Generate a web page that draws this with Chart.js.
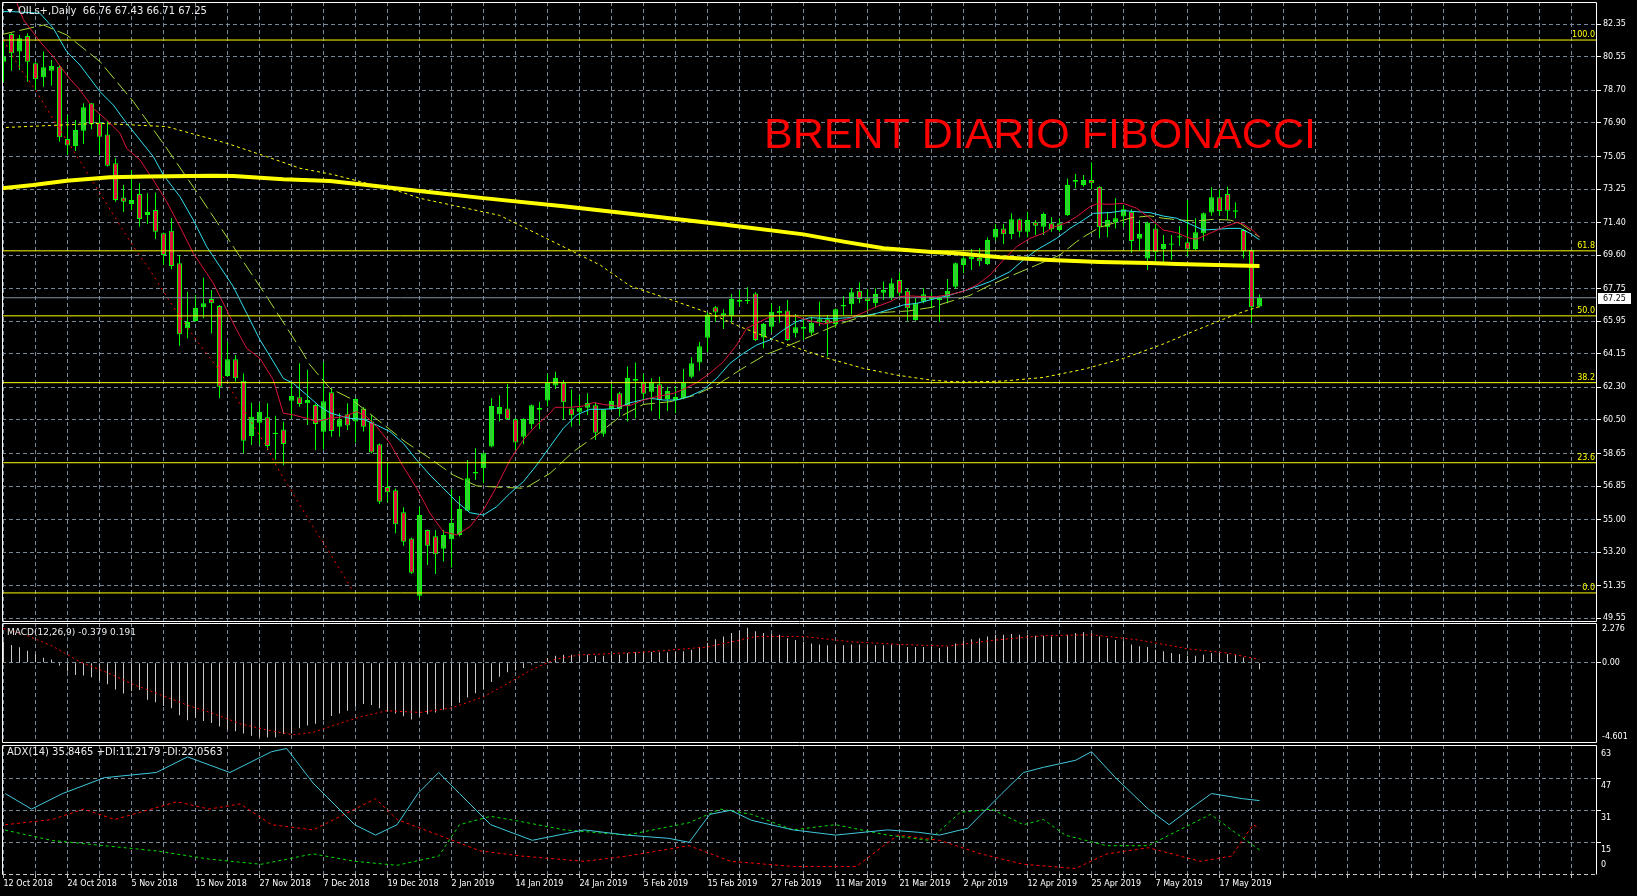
<!DOCTYPE html>
<html><head><meta charset="utf-8">
<script src="https://cdn.jsdelivr.net/npm/chart.js@4/dist/chart.umd.min.js"></script>
<style>
html,body{margin:0;padding:0;background:#000;overflow:hidden}
#wrap{position:relative;width:1637px;height:896px;background:#000}
canvas{position:absolute;left:0}
</style></head><body>
<div id="wrap">
<canvas id="main" width="1637" height="624" style="top:0px"></canvas>
<canvas id="macd" width="1637" height="126" style="top:620px"></canvas>
<canvas id="adx" width="1637" height="152" style="top:744px"></canvas>
</div>
<script>
// ---------------- DATA ----------------
const dateLabels = ['12 Oct 2018','24 Oct 2018','5 Nov 2018','15 Nov 2018','27 Nov 2018','7 Dec 2018','19 Dec 2018','2 Jan 2019','14 Jan 2019','24 Jan 2019','5 Feb 2019','15 Feb 2019','27 Feb 2019','11 Mar 2019','21 Mar 2019','2 Apr 2019','12 Apr 2019','25 Apr 2019','7 May 2019','17 May 2019'];
const barsPerDateLabel = 8;
const priceTickLabels = ['82.35','80.55','78.70','76.90','75.05','73.25','71.40','69.60','67.75','65.95','64.15','62.30','60.50','58.65','56.85','55.00','53.20','51.35','49.55'];
const macdTickValues = [2.276, 0, -4.601];
const adxTickValues = [63, 47, 31, 15, 0];

const open = [80.28,81.81,80.84,81.70,80.20,79.42,79.79,80.01,76.02,75.63,76.47,77.99,76.92,76.27,74.67,72.78,72.43,72.98,71.82,72.10,70.81,70.95,69.15,65.56,65.96,66.72,67.18,66.79,62.93,63.85,62.67,59.61,60.35,60.65,59.72,59.98,61.56,61.75,61.42,61.33,59.85,62.03,60.13,60.81,60.41,61.14,60.41,59.16,56.80,56.62,55.40,53.96,50.80,54.43,54.08,53.39,53.91,54.15,55.49,57.55,57.83,59.03,60.81,61.14,60.54,59.58,60.26,61.07,61.57,62.40,62.56,61.14,60.96,61.18,61.31,59.74,61.09,61.97,61.27,62.67,62.56,62.06,62.47,61.66,61.60,61.70,62.89,63.67,65.04,66.72,66.26,66.26,67.03,67.07,67.49,65.05,65.65,66.52,66.55,65.29,65.54,65.32,65.93,66.06,65.80,66.76,66.89,67.64,67.22,66.94,67.53,67.22,68.23,67.64,66.02,67.03,67.16,67.13,67.31,67.86,69.06,69.39,69.45,69.11,70.57,71.08,70.77,71.58,70.90,71.42,71.17,71.36,70.99,71.82,73.66,73.48,73.75,73.38,71.14,71.42,71.73,72.00,70.51,69.41,71.08,69.94,70.18,70.57,70.31,69.94,70.81,71.95,72.80,72.98,72.00,70.99,69.89,66.76];
const high = [81.48,81.85,81.76,81.85,80.25,80.84,80.38,80.10,77.34,77.07,77.99,78.00,77.34,76.99,74.95,73.48,74.30,73.57,73.02,73.05,70.85,71.64,69.61,67.58,67.40,68.36,67.68,66.85,64.82,64.09,63.07,61.45,61.42,61.42,60.73,60.40,62.61,63.63,63.27,61.40,63.72,62.25,60.87,61.42,61.70,61.20,60.78,59.20,58.14,56.71,55.68,54.00,55.71,54.45,54.43,54.43,56.67,56.30,58.29,58.94,58.70,61.70,61.86,62.49,60.60,60.60,61.35,61.51,63.04,63.17,62.71,62.19,61.88,61.97,61.46,61.10,62.49,62.06,63.45,63.67,63.04,62.80,62.89,62.34,62.38,63.32,63.96,64.81,66.43,66.80,66.61,67.46,67.68,67.83,67.55,65.85,66.94,66.80,67.13,66.35,66.11,66.20,67.03,66.30,66.65,67.35,67.77,68.10,67.72,67.77,68.14,68.32,68.64,67.77,67.22,67.77,67.53,67.31,68.29,69.20,69.52,69.94,69.98,70.57,71.32,71.32,71.91,71.64,72.00,71.54,71.95,71.69,71.64,73.84,74.08,74.03,74.73,73.42,72.00,72.74,72.37,72.13,71.54,71.45,71.32,70.72,70.72,71.21,72.65,71.64,71.95,73.35,73.24,73.38,72.52,71.06,69.90,67.43];
const low = [79.18,79.79,79.83,79.18,78.72,78.90,78.96,75.87,75.13,75.35,75.74,76.55,75.13,74.50,72.55,71.98,72.10,71.17,71.32,70.49,69.06,68.82,64.60,65.01,65.93,66.12,65.28,61.70,62.89,62.62,58.66,59.12,59.12,58.84,58.30,58.00,60.59,61.23,60.22,58.84,58.87,59.58,59.58,59.95,59.25,59.86,58.66,55.86,55.95,54.24,53.56,51.99,50.56,52.49,51.99,52.68,52.35,54.06,55.49,57.19,57.00,59.00,60.41,60.50,58.84,59.16,60.00,60.00,61.24,62.21,60.50,60.13,60.22,60.78,59.39,59.58,61.05,60.68,60.41,60.59,61.60,61.00,60.55,61.00,60.87,61.65,62.80,63.22,64.24,65.93,65.52,65.89,66.76,66.90,64.86,64.46,65.32,65.87,64.86,65.05,64.92,65.19,65.69,64.00,65.60,66.30,66.33,66.94,66.48,66.70,67.13,67.13,67.22,65.98,65.98,66.94,66.67,65.93,66.94,67.73,68.60,68.78,69.00,69.06,70.40,70.22,70.48,70.59,70.59,70.71,70.71,70.90,70.90,71.77,73.29,73.38,73.24,70.53,70.59,71.08,71.17,69.74,69.89,68.78,69.28,69.24,69.33,70.11,69.52,69.89,70.40,71.78,71.78,71.58,71.64,69.43,65.87,66.71];
const close = [80.56,80.75,81.58,80.28,79.31,79.98,80.05,76.11,75.65,76.51,77.77,76.84,76.14,74.54,72.65,72.55,72.65,71.60,71.99,70.90,69.61,69.00,65.23,65.91,66.68,66.94,66.94,62.34,63.85,62.80,59.36,60.68,60.96,59.07,59.80,59.17,61.82,61.38,61.60,60.28,61.54,59.89,60.54,60.19,61.66,60.13,58.70,55.99,56.51,54.74,53.78,52.07,55.25,53.56,53.08,54.15,54.81,55.59,57.28,57.63,58.66,61.27,61.22,60.54,59.25,60.56,61.31,61.18,62.54,62.82,61.48,60.76,61.18,61.44,59.80,61.09,61.55,61.11,62.82,62.76,61.95,62.58,61.60,62.10,61.77,62.56,63.63,64.57,66.33,66.44,66.39,67.18,67.13,67.13,64.92,65.80,66.48,66.39,64.92,65.62,65.64,65.87,66.06,65.84,66.61,66.85,67.55,67.18,67.07,67.46,67.68,68.05,67.49,66.67,66.94,67.44,67.31,67.27,67.64,69.15,69.43,69.52,69.26,70.44,71.05,70.75,71.58,70.90,71.54,71.23,71.88,71.05,71.36,73.48,73.75,73.75,73.57,71.14,71.54,71.64,72.13,70.38,70.77,71.40,69.76,70.22,70.25,70.64,69.92,70.86,71.91,72.80,72.04,72.06,72.08,69.80,66.72,67.25];

// moving averages: [bar index, price]
const maSlow = [[-0.44,73.29],[3.73,73.47],[7.9,73.71],[13.31,73.9],[17.9,73.94],[26.23,73.99],[28.73,73.97],[32.06,73.88],[34.98,73.79],[40.81,73.7],[46,73.45],[52,73.15],[60,72.75],[70,72.3],[80,71.8],[90,71.3],[100,70.75],[105,70.35],[110,69.98],[116,69.78],[119.1,69.7],[124.56,69.48],[130.8,69.33],[137.06,69.22],[143.3,69.17],[146.65,69.11],[151.65,69.06],[157,69.0]];
const maRed = [[1.5,83.7],[2.5,82.6],[4.56,81.39],[6.23,80.56],[7.9,79.55],[9.56,78.72],[11.23,77.71],[12.9,77.06],[14.56,76.33],[15.4,75.5],[17.06,74.86],[18.73,73.75],[20.4,72.55],[22.06,71.17],[23.73,69.7],[25.4,68.6],[26.23,68.05],[27.9,66.57],[29.15,65.47],[30.4,64.46],[32.06,63.9],[33.73,62.71],[34.98,60.87],[36.23,60.78],[37.9,60.59],[39.15,60.41],[40.8,60.59],[42.48,60.68],[44.15,60.96],[45.4,60.68],[46.65,60.13],[48.31,59.21],[49.98,57.92],[51.65,56.73],[53.31,55.35],[54.98,54.33],[56.65,54.15],[58.31,54.61],[59.98,55.53],[61.65,56.82],[63.31,58.29],[64.98,59.4],[66.65,60.22],[68.31,60.87],[68.94,61.2],[70.81,61.2],[72.48,61.27],[73.73,61.46],[74.98,61.36],[76.65,61.27],[78.31,61.3],[79.98,61.6],[81.65,61.79],[83.73,61.97],[84.98,62.19],[86.65,62.56],[88.31,63.08],[89.98,63.72],[91.65,64.64],[92.9,65.56],[94.15,65.84],[95.81,66.2],[97.48,66.3],[99.15,66.2],[100.81,65.98],[102.48,65.8],[104.15,65.93],[105.81,66.11],[107.48,66.43],[109.15,66.76],[110.81,67.03],[112.06,67.31],[113.31,67.35],[114.98,67.31],[116.65,67.31],[118.31,67.43],[119.98,67.6],[121.65,67.95],[123.31,68.5],[124.98,69.33],[126.65,70.07],[128.31,70.53],[129.98,70.81],[131.23,71.14],[132.9,71.4],[134.15,71.73],[135.81,72.28],[136.65,72.43],[138.31,72.41],[139.98,72.46],[141.65,72.19],[143.31,71.64],[144.98,70.99],[146.65,70.84],[148.31,70.53],[149.15,70.49],[150.81,70.81],[152.48,71.14],[154.15,71.4],[154.98,71.32],[156.23,70.95],[157,70.6]];
const maCyan = [[-0.44,83.05],[1.02,83.05],[4.56,82.96],[6.23,82.13],[7.9,80.84],[9.56,80.1],[12.06,78.63],[13.73,77.89],[15.4,76.88],[17.06,75.96],[18.73,75.04],[19.98,74.03],[22.06,72.83],[23.73,71.54],[25.4,70.07],[27.06,68.97],[28.73,67.86],[30.4,66.39],[32.06,64.92],[33.73,63.72],[34.98,62.8],[36.23,62.52],[37.9,61.88],[39.56,61.24],[40.81,60.9],[41.65,60.78],[43.31,60.59],[44.98,60.54],[46.65,60.22],[48.31,59.86],[49.98,59.21],[51.65,58.29],[53.31,57.46],[54.98,56.73],[56.65,55.99],[58.31,55.38],[59.98,55.25],[61.65,55.71],[63.31,56.45],[64.98,57.09],[66.65,58.01],[68.31,59.03],[69.98,60.04],[71.65,60.78],[73.31,61.09],[74.98,61.09],[76.65,61.14],[78.31,61.45],[80.81,61.7],[82.48,61.6],[84.15,61.6],[85.81,61.82],[87.48,62.16],[89.15,62.8],[90.81,63.63],[92.48,64.18],[94.15,64.64],[95.81,64.92],[97.48,65.47],[99.15,65.93],[100.81,66.15],[102.48,66.11],[104.15,66.11],[105.81,66.15],[107.48,66.24],[109.15,66.39],[110.81,66.61],[112.48,66.85],[114.15,66.94],[115.81,67.13],[117.48,67.31],[118.31,67.4],[120.81,67.73],[123.31,68.14],[125.81,68.69],[127.48,69.33],[129.15,69.89],[131.65,70.53],[133.31,71.08],[134.98,71.54],[136.23,71.91],[138.31,71.95],[139.98,72.06],[141.65,72.0],[143.31,71.95],[144.98,71.76],[146.65,71.64],[148.31,71.32],[149.98,70.99],[151.65,71.03],[153.31,71.08],[154.56,71.08],[155.81,70.81],[157,70.45]];
const maGreen = [[-0.44,81.76],[4.98,82.31],[7.9,81.76],[12.06,80.29],[16.23,78.08],[20.4,75.5],[24.56,72.83],[28.73,70.07],[32.9,67.31],[37.06,64.46],[38.31,63.54],[40.81,62.25],[43.31,61.7],[47.06,60.41],[50.19,59.3],[53.31,58.38],[56.23,57.46],[59.15,56.86],[62.27,56.78],[65.19,56.73],[68.31,57.55],[71.23,58.75],[74.15,59.67],[77.06,60.68],[79.98,61.36],[83.31,61.51],[86.23,61.84],[89.15,62.43],[92.27,63.32],[95.19,64.09],[98.1,64.6],[101.23,65.19],[104.15,65.75],[107.06,66.17],[109.98,66.44],[113.1,66.52],[116.02,66.72],[118.94,67.13],[120.81,67.38],[123.1,67.9],[126.23,68.51],[129.15,69.06],[132.06,69.61],[134.15,70.35],[135.19,70.66],[137.06,71.14],[139.98,71.54],[141.02,71.67],[143.31,71.77],[144.98,71.64],[147.06,71.54],[149.15,71.49],[151.23,71.58],[153.31,71.54],[154.56,71.36],[157,70.6]];
const maDotYellow = [[-0.44,76.64],[12.06,76.88],[20.4,76.7],[27.9,75.78],[32.9,75.04],[37.06,74.4],[41.2,74.05],[45.4,73.57],[49.56,73.11],[52.06,72.74],[62,71.8],[69.6,70.15],[74.6,69.05],[78.31,67.9],[83.31,67.16],[88.31,66.39],[92.06,65.65],[95.81,65.01],[99.98,64.36],[103.31,63.87],[107.48,63.35],[111.65,62.98],[115.81,62.71],[118.31,62.62],[121,62.6],[125,62.65],[130,62.85],[135,63.3],[140,63.9],[145,64.7],[149.15,65.47],[152.48,66.06],[154.98,66.48],[157,66.76]];
const maDotRed = [[-0.02,81.48],[2.06,79.92],[4.15,78.63],[6.23,77.07],[8.31,75.68],[10.4,74.21],[12.06,73.02],[14.15,71.54],[16.23,70.07],[18.31,68.78],[20.4,67.31],[22.48,65.93],[24.56,64.64],[26.65,63.44],[28.73,61.97],[30.81,60.5],[32.9,59.03],[34.15,57.92],[38.31,54.88],[40.81,53.14],[43.73,51.02]];

const fibNames = ['100.0','61.8','50.0','38.2','23.6','0.0'];
const fibPrices = [81.48, 69.84, 66.25, 62.56, 58.14, 50.95];
const lastPrice = 67.25;
const headerText = 'OILs+,Daily  66.76 67.43 66.71 67.25';
const titleText = 'BRENT DIARIO FIBONACCI';

const macdHist = [1.22,1.02,0.88,0.69,0.49,0.29,0.18,-0.16,-0.51,-0.71,
-0.73,-0.84,-1.03,-1.24,-1.53,-1.77,-1.63,-1.57,-2.12,-2.26,
-2.48,-2.61,-3.01,-3.30,-3.15,-3.34,-3.46,-3.66,-3.83,-3.93,
-4.05,-4.19,-4.25,-4.29,-4.29,-4.09,-4.05,-3.76,-3.60,-3.50,
-3.30,-3.05,-2.91,-2.75,-2.52,-2.36,-2.42,-2.61,-2.81,-2.91,
-3.07,-3.26,-3.1,-2.95,-2.85,-2.7,-2.5,-2.3,-2.0,-1.75,
-1.5,-1.1,-0.8,-0.55,-0.45,-0.3,-0.1,0.05,0.25,0.4,
0.45,0.45,0.45,0.45,0.4,0.4,0.45,0.45,0.55,0.6,
0.6,0.62,0.6,0.6,0.6,0.65,0.75,0.9,1.15,1.35,
1.5,1.7,1.85,2.0,1.8,1.7,1.65,1.6,1.4,1.3,
1.2,1.1,1.05,1.0,1.0,1.0,1.05,1.05,1.0,1.0,
1.0,1.05,1.0,0.9,0.9,0.9,0.9,0.85,0.9,1.1,
1.25,1.35,1.4,1.5,1.6,1.6,1.65,1.6,1.6,1.55,
1.55,1.5,1.45,1.6,1.7,1.75,1.7,1.5,1.4,1.3,
1.25,1.05,0.95,0.9,0.75,0.65,0.55,0.5,0.4,0.4,
0.45,0.55,0.55,0.5,0.45,0.3,-0.05,-0.38];
const macdSignal = [[0,1.96],[2.9,1.57],[6.2,0.93],[9.6,0.04],[12.9,-0.55],[16.2,-1.24],[19.6,-1.83],[22.9,-2.42],[26.2,-2.91],[29.6,-3.5],[32.9,-3.85],[36.2,-4.13],[38.7,-3.99],[41.2,-3.6],[44.6,-3.11],[47.9,-2.75],[52,-2.85],[56,-2.6],[60,-1.95],[63,-1.2],[66,-0.4],[69,0.2],[72,0.45],[80,0.6],[88,0.9],[94,1.5],[100,1.5],[106,1.2],[112,1.05],[118,0.95],[124,1.3],[130,1.55],[136,1.6],[142,1.3],[148,0.8],[153,0.55],[157,0.19]];

const adxMain = [[0.2,39.4],[3.5,31.6],[7.4,39.4],[12.6,47.3],[19.1,49.9],[23,57.7],[28.3,49.9],[33.5,60.3],[35.4,61.9],[38.7,44.6],[43.9,23.8],[46.5,18.6],[49.2,23.8],[51.8,39.4],[54.4,49.9],[57,39.4],[60.9,23.8],[66.1,16],[72.6,21.2],[77.9,18.6],[83.1,17],[85.7,15],[88.3,29],[90.9,31],[93.5,26],[98.7,21.2],[104,18.6],[110.5,21.2],[114.4,20],[117,18.6],[120.5,22],[124.8,39.4],[127.5,49.9],[130,52.5],[134,56],[136,60.3],[139,47.3],[143.1,31.6],[145.7,23.8],[148.3,31.6],[151,39.4],[154.9,36.8],[157,35.85]];
const plusDI = [[0.2,21.1],[6.1,15.9],[12.6,13.3],[19.1,10.7],[25.7,6.6],[32.2,4.0],[38.7,9.2],[43.9,5.5],[49.2,3.5],[54.4,8.1],[57,23.8],[60.9,28],[64.8,25.3],[70.1,21.2],[77.9,18.6],[85.7,24.8],[89.6,31.6],[93.5,29],[98.7,21.2],[104,23.8],[110.5,18.6],[115.7,16],[119.6,30],[123.5,31.6],[127.5,23.8],[130,26.4],[132.7,18.6],[137.9,13.3],[143.1,13.3],[147,21.2],[150.9,29],[153.5,21.2],[157,11.22]];
const minusDI = [[0.2,23.8],[6.1,26.4],[10,31.6],[13.9,26.4],[21.7,35.3],[25.7,31.6],[29.6,34.2],[33.5,23.8],[38.7,21.2],[43.9,31.6],[46.5,36.8],[49.2,26.4],[54.4,18.6],[59.6,10.7],[64.8,8.1],[72.6,5.5],[77.9,8.1],[85.7,13.3],[90.9,5.5],[98.7,2.9],[106.6,2.9],[111.8,18.6],[117,16],[122.2,9.2],[127.5,4.0],[134,1.9],[137.9,9.2],[143.1,12.3],[149.6,5.5],[153.5,8.1],[156.2,23.8],[157,22.06]];
const macdHeader = 'MACD(12,26,9) -0.379 0.191';
const adxHeader = 'ADX(14) 35.8465 +DI:11.2179 -DI:22.0563';

// ---------------- STYLE / LAYOUT ----------------
const FONT_FAMILY = 'DejaVu Sans';
Chart.defaults.font.family = FONT_FAMILY;
Chart.defaults.font.size = 8;
Chart.defaults.color = '#ffffff';
const GRID = '#778899';
const X_MIN = -0.1875, X_MAX = 199.1875;
const AXIS_W = 40;
const pts = arr => arr.map(p => ({x: p[0], y: p[1]}));
const noPad = s => { s.paddingTop = 0; s.paddingBottom = 0; s.paddingLeft = 0; s.paddingRight = 0; };

function xScale(showLabels) {
  return {
    type: 'linear', min: X_MIN, max: X_MAX, bounds: 'data', offset: false, position: 'bottom',
    afterBuildTicks: s => { const t = []; for (let v = 0; v <= X_MAX; v += barsPerDateLabel / 2) t.push({value: v}); s.ticks = t; },
    afterFit: s => { s.height = showLabels ? 21 : 0; noPad(s); },
    grid: {color: GRID, offset: false, drawTicks: showLabels, tickLength: 3, tickColor: '#c0c0c0'},
    border: {display: false, dash: [4, 3]},
    ticks: {display: showLabels, autoSkip: false, maxRotation: 0, minRotation: 0, align: 'start', padding: 1, color: '#ffffff',
      callback: v => (v % barsPerDateLabel === 0 && dateLabels[v / barsPerDateLabel]) ? dateLabels[v / barsPerDateLabel] : ''}
  };
}

function framePlugin(dashBottom) {
  return {
    id: 'frame',
    afterDraw(chart) {
      const {ctx, chartArea: a} = chart;
      ctx.save();
      ctx.strokeStyle = '#ffffff'; ctx.lineWidth = 1;
      ctx.beginPath();
      ctx.moveTo(a.left + 0.5, a.bottom - 0.5); ctx.lineTo(a.left + 0.5, a.top + 0.5);
      ctx.lineTo(a.right - 0.5, a.top + 0.5); ctx.lineTo(a.right - 0.5, a.bottom - 0.5);
      if (!dashBottom) ctx.lineTo(a.left + 0.5, a.bottom - 0.5);
      ctx.stroke();
      if (dashBottom) {
        ctx.setLineDash([4, 3]); ctx.strokeStyle = '#c8c8c8';
        ctx.beginPath(); ctx.moveTo(a.left, a.bottom - 0.5); ctx.lineTo(a.right, a.bottom - 0.5); ctx.stroke();
      }
      ctx.restore();
    }
  };
}

const common = {responsive: false, animation: false, devicePixelRatio: 1, events: [],
  plugins: {legend: {display: false}, tooltip: {enabled: false}}};

// ---------------- MAIN PRICE CHART ----------------
const BULL = '#32CD32', BEAR = '#DC143C', WICK = '#00FF00';
const mainOverlay = {
  id: 'mainOverlay',
  afterDraw(chart) {
    const {ctx, chartArea: a, scales: {y}} = chart;
    ctx.save();
    ctx.font = '8px "' + FONT_FAMILY + '"';
    ctx.fillStyle = '#ffff00'; ctx.textAlign = 'right'; ctx.textBaseline = 'alphabetic';
    fibPrices.forEach((p, k) => ctx.fillText(fibNames[k], a.right - 2, Math.round(y.getPixelForValue(p)) - 3));
    // last price box
    const py = Math.round(y.getPixelForValue(lastPrice));
    ctx.fillStyle = '#ffffff'; ctx.fillRect(a.right + 1, py - 5, 33, 11);
    ctx.fillStyle = '#000000'; ctx.textAlign = 'left'; ctx.textBaseline = 'middle';
    ctx.fillText(lastPrice.toFixed(2), a.right + 6, py + 0.5);
    // header
    ctx.fillStyle = '#ffffff';
    ctx.beginPath(); ctx.moveTo(7, 9); ctx.lineTo(13, 9); ctx.lineTo(10, 13); ctx.closePath(); ctx.fill();
    ctx.font = '10px "' + FONT_FAMILY + '"';
    ctx.fillStyle = '#ececec'; ctx.fillText(headerText, 18, 11.5);
    // title
    ctx.font = '43px "Liberation Sans"'; ctx.fillStyle = '#ff0000'; ctx.textBaseline = 'alphabetic';
    ctx.fillText(titleText, 764, 148);
    ctx.restore();
  }
};

const mainDatasets = [
  {type: 'bar', label: 'wicks', order: 20, data: high.map((h, i) => ({x: i, y: [low[i], h]})),
   backgroundColor: WICK, borderWidth: 0, barThickness: 1, grouped: false, inflateAmount: 0},
  {type: 'bar', label: 'bodies', order: 19, data: open.map((o, i) => ({x: i, y: [o, close[i]]})),
   backgroundColor: c => close[c.dataIndex] >= open[c.dataIndex] ? BULL : BEAR,
   borderColor: WICK, borderWidth: 1, borderSkipped: false, barThickness: 5, grouped: false, inflateAmount: 0},
  {type: 'line', order: 10, data: pts(maDotYellow), borderColor: '#ffff00', borderWidth: 1, borderDash: [3, 3], pointRadius: 0},
  {type: 'line', order: 9, data: pts(maDotRed), borderColor: '#ff0000', borderWidth: 1, borderDash: [2, 4], pointRadius: 0},
  {type: 'line', order: 8, data: pts(maGreen), borderColor: '#a6d832', borderWidth: 1, borderDash: [15, 5], pointRadius: 0},
  {type: 'line', order: 7, data: pts(maCyan), borderColor: '#30e0f0', borderWidth: 1, pointRadius: 0},
  {type: 'line', order: 6, data: pts(maRed), borderColor: '#DC143C', borderWidth: 1, pointRadius: 0},
  {type: 'line', order: 5, data: pts(maSlow), borderColor: '#ffff00', borderWidth: 4, pointRadius: 0},
  {type: 'line', order: 2, data: [{x: -1, y: lastPrice}, {x: 201, y: lastPrice}], borderColor: '#8090a0', borderWidth: 1, pointRadius: 0},
  ...fibPrices.map(p => ({type: 'line', order: 1, data: [{x: -1, y: p}, {x: 201, y: p}], borderColor: '#ffff00', borderWidth: 1, pointRadius: 0}))
];

new Chart(document.getElementById('main'), {
  type: 'bar',
  data: {datasets: mainDatasets},
  options: Object.assign({}, common, {
    layout: {padding: {left: 2, top: 2, right: 0, bottom: 2}},
    scales: {
      x: xScale(false),
      y: {type: 'linear', position: 'right', min: 49.345, max: 83.58, bounds: 'data', beginAtZero: false,
        afterBuildTicks: s => { s.ticks = priceTickLabels.map(t => ({value: parseFloat(t)})); },
        afterFit: s => { s.width = AXIS_W; noPad(s); },
        grid: {color: GRID, tickLength: 4, tickColor: '#ffffff'},
        border: {display: false, dash: [4, 3]},
        ticks: {autoSkip: false, padding: 2, color: '#ffffff', callback: v => Number(v).toFixed(2)}}
    }
  }),
  plugins: [framePlugin(false), mainOverlay]
});

// ---------------- MACD ----------------
const macdOverlay = {id: 'macdOverlay', afterDraw(chart) {
  const {ctx} = chart; ctx.save();
  ctx.font = '9px "' + FONT_FAMILY + '"'; ctx.fillStyle = '#ececec'; ctx.textBaseline = 'middle';
  ctx.fillText(macdHeader, 7, 12.5); ctx.restore(); }};
new Chart(document.getElementById('macd'), {
  type: 'bar',
  data: {datasets: [
    {type: 'line', order: 1, data: pts(macdSignal), borderColor: '#ff0000', borderWidth: 1, borderDash: [2, 3], pointRadius: 0},
    {type: 'bar', order: 2, data: macdHist.map((v, i) => ({x: i, y: v})), backgroundColor: '#c8c8c8', borderWidth: 0, barThickness: 1, grouped: false, inflateAmount: 0}
  ]},
  options: Object.assign({}, common, {
    layout: {padding: {left: 2, top: 3, right: 0, bottom: 3}},
    scales: {
      x: xScale(false),
      y: {type: 'linear', position: 'right', min: -4.601, max: 2.276, bounds: 'data', beginAtZero: false,
        afterBuildTicks: s => { s.ticks = macdTickValues.map(v => ({value: v})); },
        afterFit: s => { s.width = AXIS_W; noPad(s); },
        grid: {color: c => (c.tick && c.tick.value === 0) ? GRID : 'rgba(0,0,0,0)', tickLength: 4,
               tickColor: c => (c.tick && c.tick.value === 0) ? '#ffffff' : 'rgba(0,0,0,0)'},
        border: {display: false, dash: [4, 3]},
        ticks: {autoSkip: false, padding: 1, color: '#ffffff', font: {size: 8, lineHeight: 1.4},
          callback: v => v === 0 ? '0.00' : (v > 0 ? ['', String(v)] : [String(v), ''])}}
    }
  }),
  plugins: [framePlugin(false), macdOverlay]
});

// ---------------- ADX ----------------
const adxOverlay = {id: 'adxOverlay', afterDraw(chart) {
  const {ctx} = chart; ctx.save();
  ctx.font = '10px "' + FONT_FAMILY + '"'; ctx.fillStyle = '#ececec'; ctx.textBaseline = 'middle';
  ctx.fillText(adxHeader, 7, 8.5); ctx.restore(); }};
new Chart(document.getElementById('adx'), {
  type: 'line',
  data: {datasets: [
    {data: pts(adxMain), borderColor: '#40c8dc', borderWidth: 1, pointRadius: 0},
    {data: pts(plusDI), borderColor: '#00e000', borderWidth: 1, borderDash: [3, 3], pointRadius: 0},
    {data: pts(minusDI), borderColor: '#ff0000', borderWidth: 1, borderDash: [3, 3], pointRadius: 0}
  ]},
  options: Object.assign({}, common, {
    layout: {padding: {left: 2, top: 1, right: 0, bottom: 0}},
    scales: {
      x: xScale(true),
      y: {type: 'linear', position: 'right', min: -1.35, max: 63.65, bounds: 'data',
        afterBuildTicks: s => { s.ticks = adxTickValues.map(v => ({value: v})); },
        afterFit: s => { s.width = AXIS_W; noPad(s); },
        grid: {color: c => (c.tick && c.tick.value > 0 && c.tick.value < 63) ? GRID : 'rgba(0,0,0,0)', tickLength: 4,
               tickColor: c => (c.tick && c.tick.value > 0 && c.tick.value < 63) ? '#ffffff' : 'rgba(0,0,0,0)'},
        border: {display: false, dash: [4, 3]},
        ticks: {autoSkip: false, padding: 0, color: '#ffffff', font: {size: 8, lineHeight: 1.9},
          callback: v => v === 0 ? ['0', ''] : ['', String(v)]}}
    }
  }),
  plugins: [framePlugin(true), adxOverlay]
});
</script>
</body></html>
